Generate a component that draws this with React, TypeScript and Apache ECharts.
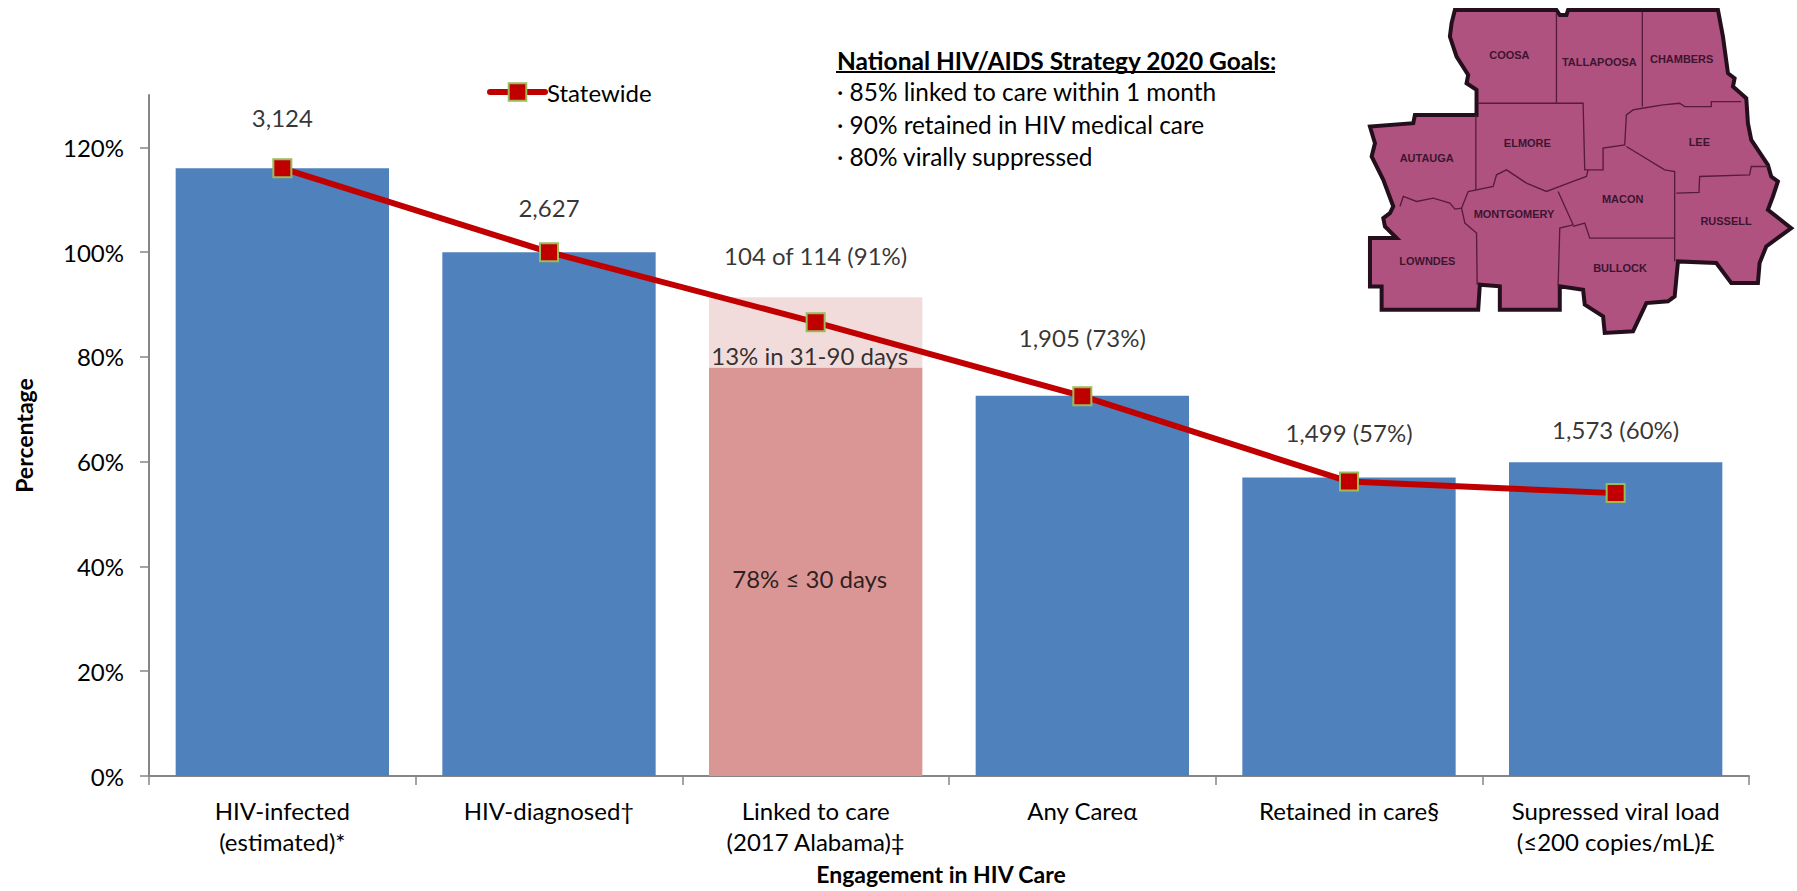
import React, { useEffect, useRef } from "react";
import * as echarts from "echarts";

const FONT = "Lato";

const categories = [
  "HIV-infected\n(estimated)*",
  "HIV-diagnosed†",
  "Linked to care\n(2017 Alabama)‡",
  "Any Careα",
  "Retained in care§",
  "Supressed viral load\n(≤200 copies/mL)£",
];
const barValues = [116, 100, 78, 72.6, 57, 59.9];
const barColors = ["#4F81BD", "#4F81BD", "#D99694", "#4F81BD", "#4F81BD", "#4F81BD"];
const extraValues = [null, null, 13.4, null, null, null];
const statewide = [116, 100, 86.6, 72.5, 56.2, 54];
const countLabels = ["3,124", "2,627", "104 of 114 (91%)", "1,905 (73%)", "1,499 (57%)", "1,573 (60%)"];
const countLabelHeights = [125.8, 108.6, 99.3, 83.8, 65.5, 66.1];
const segmentLabels = ["13% in 31-90 days", "78% ≤ 30 days"];
const segmentLabelHeights = [80.3, 37.7];
const yTicks = [0, 20, 40, 60, 80, 100, 120];

const goalsTitle = "National HIV/AIDS Strategy 2020 Goals:";
const goals = ["· 85% linked to care within 1 month", "· 90% retained in HIV medical care", "· 80% virally suppressed"];

const mapOutline = [
  [345, 30], [650, 30], [660, 45], [680, 45], [685, 30], [1135, 30], [1150, 110], [1165, 220], [1185, 235], [1180, 260],
  [1220, 295], [1225, 370], [1235, 420], [1285, 495], [1295, 530], [1315, 545], [1300, 590], [1285, 630], [1355, 685],
  [1280, 740], [1260, 790], [1255, 850], [1175, 850], [1130, 790], [1015, 785], [1005, 890], [985, 905], [920, 910],
  [880, 995], [795, 1000], [790, 950], [735, 915], [730, 870], [660, 860], [660, 930], [480, 930], [480, 860], [420, 855],
  [415, 930], [125, 930], [125, 860], [90, 860], [90, 715], [170, 715], [135, 680], [130, 655], [150, 640], [160, 620],
  [130, 540], [95, 470], [105, 430], [90, 380], [220, 370], [225, 345], [410, 345], [410, 270], [380, 250], [385, 225],
  [350, 170], [330, 110], [335, 70],
];
const mapBorders = [
  [[650, 40], [650, 310]],
  [[908, 35], [908, 320]],
  [[415, 310], [730, 310], [735, 510], [790, 510], [790, 445], [855, 435], [860, 345], [880, 330], [908, 325], [970, 315], [1020, 310], [1035, 320], [1115, 320], [1115, 305], [1205, 305]],
  [[408, 345], [408, 570]],
  [[180, 620], [190, 590], [230, 605], [280, 595], [330, 610], [345, 628], [365, 625], [385, 575], [460, 560], [470, 525], [500, 510], [560, 550], [620, 575], [700, 545], [740, 530], [745, 510]],
  [[365, 625], [375, 670], [410, 700], [412, 855]],
  [[655, 575], [700, 675], [660, 685], [655, 860]],
  [[700, 680], [735, 670], [750, 715], [1005, 715]],
  [[860, 440], [975, 510], [1005, 515], [1005, 785]],
  [[1010, 580], [1078, 578], [1080, 530], [1230, 525], [1235, 500], [1285, 500]],
];
const countyNames = ["COOSA", "TALLAPOOSA", "CHAMBERS", "AUTAUGA", "ELMORE", "LEE", "MONTGOMERY", "MACON", "RUSSELL", "LOWNDES", "BULLOCK"];
const countyX = [508, 778, 1025, 260, 562, 1078, 522, 848, 1158, 262, 840];
const countyY = [165, 185, 178, 475, 428, 425, 642, 598, 662, 782, 803];

export default function App() {
  const ref = useRef<HTMLDivElement>(null);
  useEffect(() => {
    const chart = echarts.init(ref.current!, null, { renderer: "svg" });
    const base = { fontFamily: FONT, color: "#000" };
    chart.setOption({
      animation: false,
      backgroundColor: "#fff",
      textStyle: base,
      grid: { left: 149, top: 95, width: 1600, height: 681, containLabel: false, outerBoundsMode: "none" },
      legend: {
        left: 487,
        top: 80,
        padding: 0,
        data: ["Statewide"],
        itemWidth: 55,
        itemHeight: 22,
        itemGap: 4,
        lineStyle: { width: 6, cap: "round" },
        textStyle: { ...base, fontSize: 24, padding: [0, 0, 0, -3] },
      },
      xAxis: {
        type: "category",
        data: categories,
        boundaryGap: true,
        axisLine: { lineStyle: { color: "#868686", width: 2 } },
        axisTick: { show: true, length: 9, alignWithLabel: false, lineStyle: { color: "#868686", width: 1.5 } },
        axisLabel: { ...base, fontSize: 24, lineHeight: 31, margin: 19, interval: 0 },
        name: "Engagement in HIV Care",
        nameLocation: "middle",
        nameGap: 86,
        nameTextStyle: { ...base, fontSize: 23, fontWeight: "bold", padding: [0, 16, 0, 0] },
      },
      yAxis: {
        type: "value",
        min: 0,
        max: 130,
        interval: 20,
        splitLine: { show: false },
        axisLine: { show: true, lineStyle: { color: "#868686", width: 2 } },
        axisTick: { show: true, length: 9, customValues: yTicks, lineStyle: { color: "#868686", width: 1.5 } },
        axisLabel: { ...base, fontSize: 24, margin: 25, customValues: yTicks, formatter: "{value}%" },
        name: "Percentage",
        nameLocation: "middle",
        nameGap: 114,
        nameRotate: 90,
        nameTextStyle: { ...base, fontSize: 23, fontWeight: "bold" },
      },
      series: [
        {
          name: "Care",
          type: "bar",
          stack: "care",
          barCategoryGap: "20%",
          data: barValues.map((v, i) => ({ value: v, itemStyle: { color: barColors[i] } })),
          z: 2,
        },
        {
          name: "31-90 days",
          type: "bar",
          stack: "care",
          barCategoryGap: "20%",
          data: extraValues,
          itemStyle: { color: "#F2DCDB" },
          z: 2,
        },
        {
          name: "Statewide",
          type: "line",
          data: statewide,
          symbol: "rect",
          symbolSize: 18,
          showAllSymbol: true,
          lineStyle: { color: "#C00000", width: 6 },
          itemStyle: { color: "#C00000", borderColor: "#9BBB59", borderWidth: 2 },
          z: 4,
        },
        {
          name: "Counts",
          type: "scatter",
          data: countLabelHeights.map((v, i) => [i, v]),
          symbolSize: 0,
          silent: true,
          label: {
            show: true,
            position: "inside",
            ...base,
            fontSize: 24,
            formatter: (p: any) => countLabels[p.dataIndex],
          },
          z: 5,
        },
        {
          name: "Segments",
          type: "scatter",
          data: segmentLabelHeights.map((v) => [2, v]),
          symbolSize: 0,
          silent: true,
          label: {
            show: true,
            position: "inside",
            offset: [-6, 0],
            ...base,
            fontSize: 24,
            formatter: (p: any) => segmentLabels[p.dataIndex],
          },
          z: 5,
        },
      ],
      graphic: [
        {
          type: "text",
          x: 837,
          y: 60,
          style: { text: goalsTitle, font: `bold 24.5px ${FONT}`, fill: "#000", verticalAlign: "middle" },
        },
        { type: "line", shape: { x1: 836, y1: 72, x2: 1275, y2: 72 }, style: { stroke: "#000", lineWidth: 2 } },
        ...goals.map((g, i) => ({
          type: "text",
          x: 837,
          y: 91.5 + i * 32.5,
          style: { text: g, font: `24.4px ${FONT}`, fill: "#000", verticalAlign: "middle" },
        })),
        {
          type: "group",
          x: 1340,
          y: 0,
          scaleX: 1 / 3,
          scaleY: 1 / 3,
          children: [
            {
              type: "polygon",
              shape: { points: mapOutline },
              style: { fill: "#B0527F", stroke: "#24101C", lineWidth: 12, lineJoin: "miter" },
            },
            ...mapBorders.map((points) => ({
              type: "polyline",
              shape: { points },
              style: { fill: "none", stroke: "#571B3C", lineWidth: 4 },
            })),
            ...countyNames.map((name, i) => ({
              type: "text",
              x: countyX[i],
              y: countyY[i],
              style: {
                text: name,
                font: `bold 33px "Liberation Sans Narrow", "Liberation Sans"`,
                fill: "#3C1530",
                align: "center",
                verticalAlign: "middle",
              },
            })),
          ],
        },
      ],
    });
    return () => chart.dispose();
  }, []);
  return <div ref={ref} style={{ position: "fixed", left: 0, top: 0, width: 1797, height: 891 }} />;
}
